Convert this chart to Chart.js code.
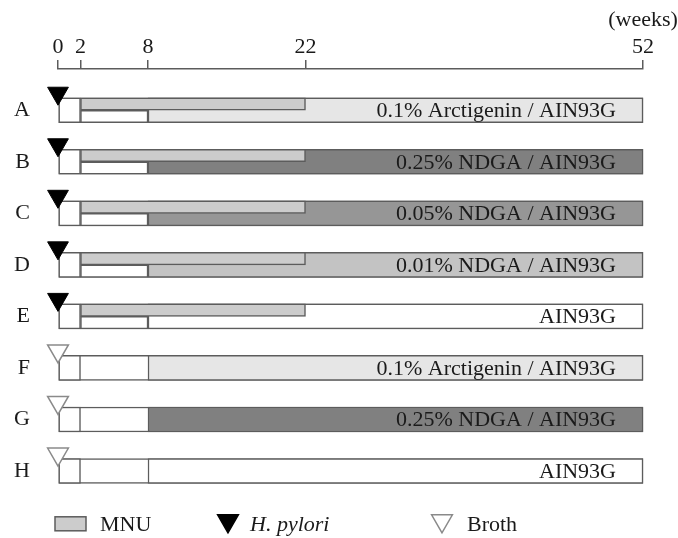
<!DOCTYPE html>
<html>
<head>
<meta charset="utf-8">
<title>Experimental protocol</title>
<script src="https://cdn.jsdelivr.net/npm/chart.js@4.4.0/dist/chart.umd.min.js"></script>
<style>
  html, body { margin: 0; padding: 0; background: #fff; }
  #wrap { width: 678px; height: 538px; position: relative; }
</style>
</head>
<body>
<div id="wrap"><canvas id="protocolChart"></canvas></div>
<script>
// groups and treatments
var groups     = ['A', 'B', 'C', 'D', 'E', 'F', 'G', 'H'];
var infection  = ['H. pylori', 'H. pylori', 'H. pylori', 'H. pylori', 'H. pylori', 'Broth', 'Broth', 'Broth'];
var mnuGiven   = [true, true, true, true, true, false, false, false];
var diets      = ['0.1% Arctigenin', '0.25% NDGA', '0.05% NDGA', '0.01% NDGA', 'none', '0.1% Arctigenin', '0.25% NDGA', 'none'];

// time points (weeks)
var weekTicks        = [0, 2, 8, 22, 52];
var studyWeeks       = [0, 52];
var inoculationWeeks = [0, 2];
var mnuWeeks         = [2, 22];
var dietWeeks        = [8, 52];

// styles
var serif     = '"Liberation Serif", "DejaVu Serif", serif';
var lineColor = '#5c5c5c';
var textColor = '#1a1a1a';
var mnuColor  = '#cccccc';
var dietColor = {
  '0.1% Arctigenin': '#e6e6e6',
  '0.25% NDGA'     : '#808080',
  '0.05% NDGA'     : '#969696',
  '0.01% NDGA'     : '#c3c3c3',
  'none'           : '#ffffff'
};

function dietText(d) {
  return d === 'none' ? 'AIN93G' : d + ' / AIN93G';
}

var studyData = [], inocData = [], dietData = [], mnuData = [], lowerData = [], hpData = [], brothData = [];
var dietColors = [];
for (var i = 0; i < groups.length; i++) {
  var row = i + 1;
  studyData.push({x: studyWeeks.slice(), y: row});
  inocData.push({x: inoculationWeeks.slice(), y: row});
  dietData.push({x: dietWeeks.slice(), y: row});
  dietColors.push(dietColor[diets[i]]);
  if (mnuGiven[i]) {
    mnuData.push({x: mnuWeeks.slice(), y: row});
    lowerData.push({x: [mnuWeeks[0], dietWeeks[0]], y: row});
  }
  // marker sits just above the bar, at week 0
  var mark = {x: inoculationWeeks[0], y: row - 0.33};
  if (infection[i] === 'H. pylori') hpData.push(mark);
  else brothData.push(mark);
}

var DIET_INDEX = 2;

// diet names written inside the bars
var barTextPlugin = {
  id: 'barText',
  afterDatasetsDraw: function(chart) {
    var ctx = chart.ctx;
    var meta = chart.getDatasetMeta(DIET_INDEX);
    ctx.save();
    ctx.font = '22px ' + serif;
    ctx.fillStyle = textColor;
    ctx.textAlign = 'right';
    ctx.textBaseline = 'middle';
    meta.data.forEach(function(bar, i) {
      ctx.fillText(dietText(diets[i]), bar.x - 27, bar.y + 1);
    });
    ctx.restore();
  }
};

// key row under the chart
var keyPlugin = {
  id: 'keyRow',
  afterDraw: function(chart) {
    var ctx = chart.ctx;
    var y = chart.chartArea.bottom + 27;
    ctx.save();
    ctx.fillStyle = mnuColor;
    ctx.strokeStyle = lineColor;
    ctx.lineWidth = 1.5;
    ctx.fillRect(55, y - 7, 31, 14);
    ctx.strokeRect(55, y - 7, 31, 14);

    ctx.fillStyle = '#000';
    ctx.strokeStyle = '#000';
    Chart.helpers.drawPoint(ctx, {pointStyle: 'triangle', rotation: 180, radius: 12, borderWidth: 1}, 228, y - 3);

    ctx.font = '22px ' + serif;
    ctx.fillStyle = textColor;
    ctx.textAlign = 'left';
    ctx.textBaseline = 'middle';
    ctx.fillText('MNU', 100, y + 1);
    ctx.fillText('Broth', 467, y + 1);
    ctx.font = 'italic 22px ' + serif;
    ctx.fillText('H. pylori', 250, y + 1);
    ctx.restore();

    ctx.save();
    ctx.fillStyle = '#fff';
    ctx.strokeStyle = '#8a8a8a';
    ctx.lineWidth = 1.5;
    Chart.helpers.drawPoint(ctx, {pointStyle: 'triangle', rotation: 180, radius: 12, borderWidth: 1.5}, 442, y - 3);
    ctx.restore();
  }
};

var barCommon = {borderColor: lineColor, borderWidth: 1.5, borderSkipped: false, clip: false};

function bar(extra) {
  return Object.assign({}, barCommon, extra);
}

var ctx = document.getElementById('protocolChart').getContext('2d');
var chart = new Chart(ctx, {
  type: 'bar',
  data: {
    datasets: [
      bar({label: 'MNU', data: mnuData, backgroundColor: mnuColor, stack: 'upper', barThickness: 12.5}),
      bar({label: 'basal', data: lowerData, backgroundColor: '#ffffff', stack: 'lower', barThickness: 12.5}),
      bar({label: 'diet', data: dietData, backgroundColor: dietColors, grouped: false, maxBarThickness: 25, barPercentage: 1, categoryPercentage: 1}),
      bar({label: 'inoculation', data: inocData, backgroundColor: '#ffffff', grouped: false, maxBarThickness: 25, barPercentage: 1, categoryPercentage: 1}),
      bar({label: 'study', data: studyData, backgroundColor: '#ffffff', grouped: false, maxBarThickness: 25, barPercentage: 1, categoryPercentage: 1}),
      {type: 'scatter', label: 'H. pylori', data: hpData, order: -1, clip: false,
       pointStyle: 'triangle', rotation: 180, radius: 12, hoverRadius: 12,
       backgroundColor: '#000000', borderColor: '#000000', borderWidth: 1},
      {type: 'scatter', label: 'Broth', data: brothData, order: -1, clip: false,
       pointStyle: 'triangle', rotation: 180, radius: 12, hoverRadius: 12,
       backgroundColor: '#ffffff', borderColor: '#8a8a8a', borderWidth: 1.5}
    ]
  },
  options: {
    indexAxis: 'y',
    responsive: true,
    maintainAspectRatio: false,
    animation: false,
    layout: {padding: {left: 0, right: 35, top: 0, bottom: 40}},
    scales: {
      x: {
        type: 'linear',
        position: 'top',
        stacked: false,
        min: 0,
        max: 52,
        afterBuildTicks: function(scale) {
          scale.ticks = weekTicks.map(function(v) { return {value: v}; });
        },
        afterFit: function(scale) { scale.height = 69; },
        ticks: {
          autoSkip: false,
          maxRotation: 0,
          padding: 0,
          color: textColor,
          font: {family: serif, size: 22},
          callback: function(v) {
            return v === weekTicks[weekTicks.length - 1] ? ['(weeks)', String(v)] : String(v);
          }
        },
        grid: {drawOnChartArea: false, drawTicks: true, tickLength: 9, color: lineColor, lineWidth: 1.5},
        border: {display: true, color: lineColor, width: 1.5}
      },
      y: {
        type: 'linear',
        reverse: true,
        offset: false,
        min: 0.2,
        max: 8.5,
        afterBuildTicks: function(scale) {
          scale.ticks = groups.map(function(g, i) { return {value: i + 1}; });
        },
        afterFit: function(scale) { scale.width = 58; },
        ticks: {
          padding: 28,
          color: textColor,
          font: {family: serif, size: 22},
          callback: function(v) { return groups[v - 1]; }
        },
        grid: {display: false, drawTicks: false, offset: false},
        border: {display: false}
      }
    },
    plugins: {
      legend: {display: false},
      tooltip: {enabled: false}
    }
  },
  plugins: [barTextPlugin, keyPlugin]
});
</script>
</body>
</html>
